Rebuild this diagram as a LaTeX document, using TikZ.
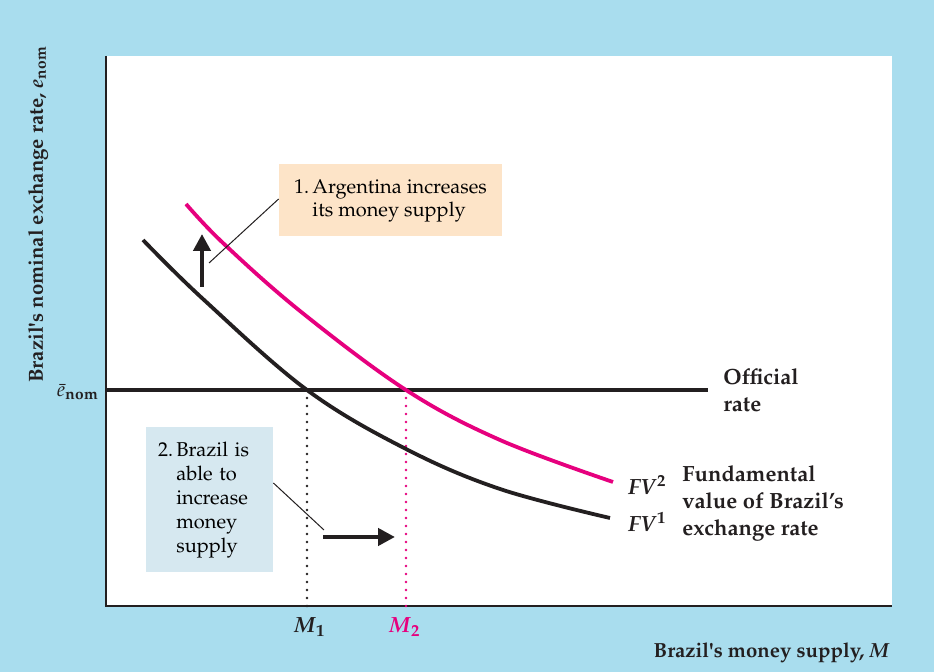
\documentclass[tikz,border=0pt]{standalone}
\usepackage[T1]{fontenc}
\usepackage{textcomp}
\usepackage{mathpazo}
\usepackage{xcolor}
\usepackage{tikz}
\usetikzlibrary{arrows.meta}

\definecolor{bgblue}{HTML}{A9DDEE}
\definecolor{fvpink}{HTML}{E6007E}
\definecolor{peach}{HTML}{FDE4C8}
\definecolor{paleblue}{HTML}{D6E8F0}
\definecolor{ink}{HTML}{231F20}

\tikzset{
  fvline/.style={line width=1.9pt, ink},
  rateline/.style={line width=2pt, ink},
  guide/.style={line width=1.4pt, line cap=round, dash pattern=on 0pt off 4pt},
  shiftarrow/.style={line width=2.2pt, ink, -{Triangle[length=8.5pt,width=8.5pt]}},
  leader/.style={line width=0.5pt, ink},
  notebox/.style={fill=#1, inner sep=0pt, font=\fontsize{10}{11.5}\selectfont},
  curvelabel/.style={font=\fontsize{11}{13.5}\selectfont\bfseries, align=left, inner sep=0pt, ink},
  axislabel/.style={font=\fontsize{10.2}{12}\selectfont\bfseries, inner sep=0pt, ink},
}

\begin{document}
\begin{tikzpicture}[x=0.5pt, y=-0.5pt]
  % background and plot area
  \fill[bgblue] (0,0) rectangle (934,672);
  \fill[white] (106,56) rectangle (892,606);
  \useasboundingbox (0,0) rectangle (934,672);

  % axes
  \coordinate (top) at (106,56);
  \coordinate (origin) at (106,606);
  \coordinate (right) at (892,606);
  \draw[line width=1pt, ink] (top) -- (origin) -- (right);

  % official rate
  \coordinate (rateend) at (708,390);
  \draw[rateline] (origin |- rateend) -- (rateend);

  % M1, M2 guides
  \coordinate (m1) at (307,390);
  \coordinate (m2) at (406,390);
  \draw[guide, ink] (m1) -- (m1 |- origin);
  \draw[guide, fvpink] (m2) -- (m2 |- origin);

  % fundamental value curves
  \draw[fvline] plot[smooth, tension=0.6] coordinates
    {(143,240) (203,299) (307,390) (406,449) (500,489) (610,518)}; %FV1
  \draw[fvline, fvpink] plot[smooth, tension=0.6] coordinates
    {(186,204) (223,243) (300,311) (406,390) (500,440) (613,482)}; %FV2

  % shift arrows
  \coordinate (up0) at (202,287);
  \coordinate (up1) at (202,234);
  \draw[shiftarrow] (up0) -- (up1);
  \coordinate (rt0) at (323,537);
  \coordinate (rt1) at (395,537);
  \draw[shiftarrow] (rt0) -- (rt1);

  % note boxes
  \node[notebox=peach, minimum width=111.5pt, minimum height=36pt] (argbox) at (390.5,200)
    {\begin{tabular}{@{}l@{\,}l@{}}1.&Argentina increases\\&its money supply\end{tabular}};
  \node[notebox=paleblue, minimum width=63.5pt, minimum height=72.5pt, inner xsep=6pt,
        text width=51.5pt, align=left, font=\fontsize{10}{12}\selectfont] (brabox) at (209.5,499.5)
    {\begin{tabular}{@{}l@{\,}l@{}}2.&Brazil is\\&able to\\&increase\\&money\\&supply\end{tabular}};

  \coordinate (argtip) at (209,263);
  \draw[leader] ([yshift=0.5pt]argbox.west) -- (argtip);
  \coordinate (bratip) at (324,530);
  \draw[leader] ([yshift=8.25pt]brabox.east) -- (bratip);

  % labels
  \node[curvelabel, anchor=west] (official) at (723,390) {Official\\rate};
  \node[curvelabel, anchor=west] (fundlabel) at (682,503)
    {Fundamental\\value of Brazil's\\exchange rate};
  \node[curvelabel, anchor=east] (fv2) at (667,485) {$\textbf{\textit{FV}}^{\mathbf{2}}$};
  \node[curvelabel, anchor=east] (fv1) at (667,522) {$\textbf{\textit{FV}}^{\mathbf{1}}$};
  \node[curvelabel] (m1lab) at (310,627) {$\textbf{\textit{M}}_{\mathbf{1}}$};
  \node[curvelabel, fvpink] (m2lab) at (405,627) {$\textbf{\textit{M}}_{\mathbf{2}}$};
  \node[axislabel] (ebar) at (78,392) {$\bar{e}_{\mathbf{nom}}$};
  \node[axislabel, anchor=east] (xlab) at (890,653) {Brazil\textquotesingle s money supply, \textit{M}};
  \node[axislabel, rotate=90] (ylab) at (38,214)
    {Brazil\textquotesingle s nominal exchange rate, $\textbf{\textit{e}}_{\mathbf{nom}}$};
\end{tikzpicture}
\end{document}
